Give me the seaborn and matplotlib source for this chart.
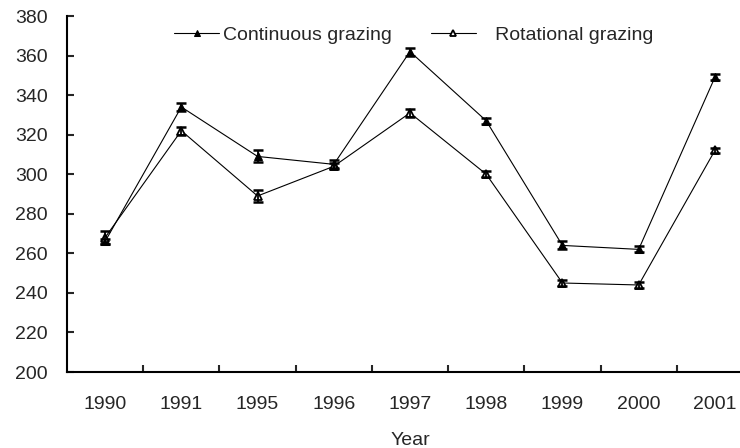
import numpy as np
import matplotlib
matplotlib.use("Agg")
import matplotlib.pyplot as plt
import seaborn as sns

# data
years = ["1990", "1991", "1995", "1996", "1997", "1998", "1999", "2000", "2001"]
continuous = [266, 334, 309, 305, 362, 327, 264, 262, 349]
continuous_err = [1.5, 2, 3, 2, 2, 1.5, 2, 1.5, 1.5]
rotational = [268, 322, 289, 304, 331, 300, 245, 244, 312]
rotational_err = [3.5, 2, 3, 1.5, 2, 1.5, 1.5, 1.5, 1.5]

sns.set_theme(style="white")
plt.rcParams["font.family"] = ["Liberation Sans", "DejaVu Sans"]

fig = plt.figure(figsize=(7.4, 4.48), dpi=100)
ax = fig.add_axes([67 / 740, 76 / 448, 686 / 740, 356 / 448])

x = np.arange(len(years))

sns.lineplot(x=x, y=continuous, ax=ax, color="black", linewidth=0.8,
             marker="^", markersize=6, markerfacecolor="black",
             markeredgecolor="black", label="Continuous grazing")
sns.lineplot(x=x, y=rotational, ax=ax, color="black", linewidth=0.8,
             marker="^", markersize=6, markerfacecolor="white",
             markeredgecolor="black", markeredgewidth=1.3,
             label="   Rotational grazing")

ax.errorbar(x, continuous, yerr=continuous_err, fmt="none", ecolor="black",
            elinewidth=1.3, capsize=3.5, capthick=1.8)
ax.errorbar(x, rotational, yerr=rotational_err, fmt="none", ecolor="black",
            elinewidth=1.3, capsize=3.5, capthick=1.8)

ax.set_xlim(-0.5, len(years) - 0.5)
ax.set_ylim(200, 380)
ax.set_yticks(np.arange(200, 381, 20))
ax.set_xticks(x)
ax.set_xticklabels(years)
ax.set_xticks(np.arange(0.5, len(years), 1), minor=True)

ax.tick_params(axis="x", which="major", length=0, pad=17, labelsize=14)
ax.tick_params(axis="x", which="minor", direction="in", length=5, width=1.5,
               bottom=True)
ax.tick_params(axis="y", direction="in", length=5, width=1.5, left=True,
               pad=14, labelsize=14)

for side in ["top", "right"]:
    ax.spines[side].set_visible(False)
for side in ["left", "bottom"]:
    ax.spines[side].set_color("black")
    ax.spines[side].set_linewidth(1.5)

ax.set_xlabel("Year", fontsize=14, labelpad=14)
ax.set_ylabel("")

ax.legend(loc="center", bbox_to_anchor=(0.506, 0.947), ncol=2, frameon=False,
          fontsize=14, handlelength=2.3, handletextpad=0.2, columnspacing=2.0,
          markerscale=0.8)

fig.savefig("out.png", dpi=100)
